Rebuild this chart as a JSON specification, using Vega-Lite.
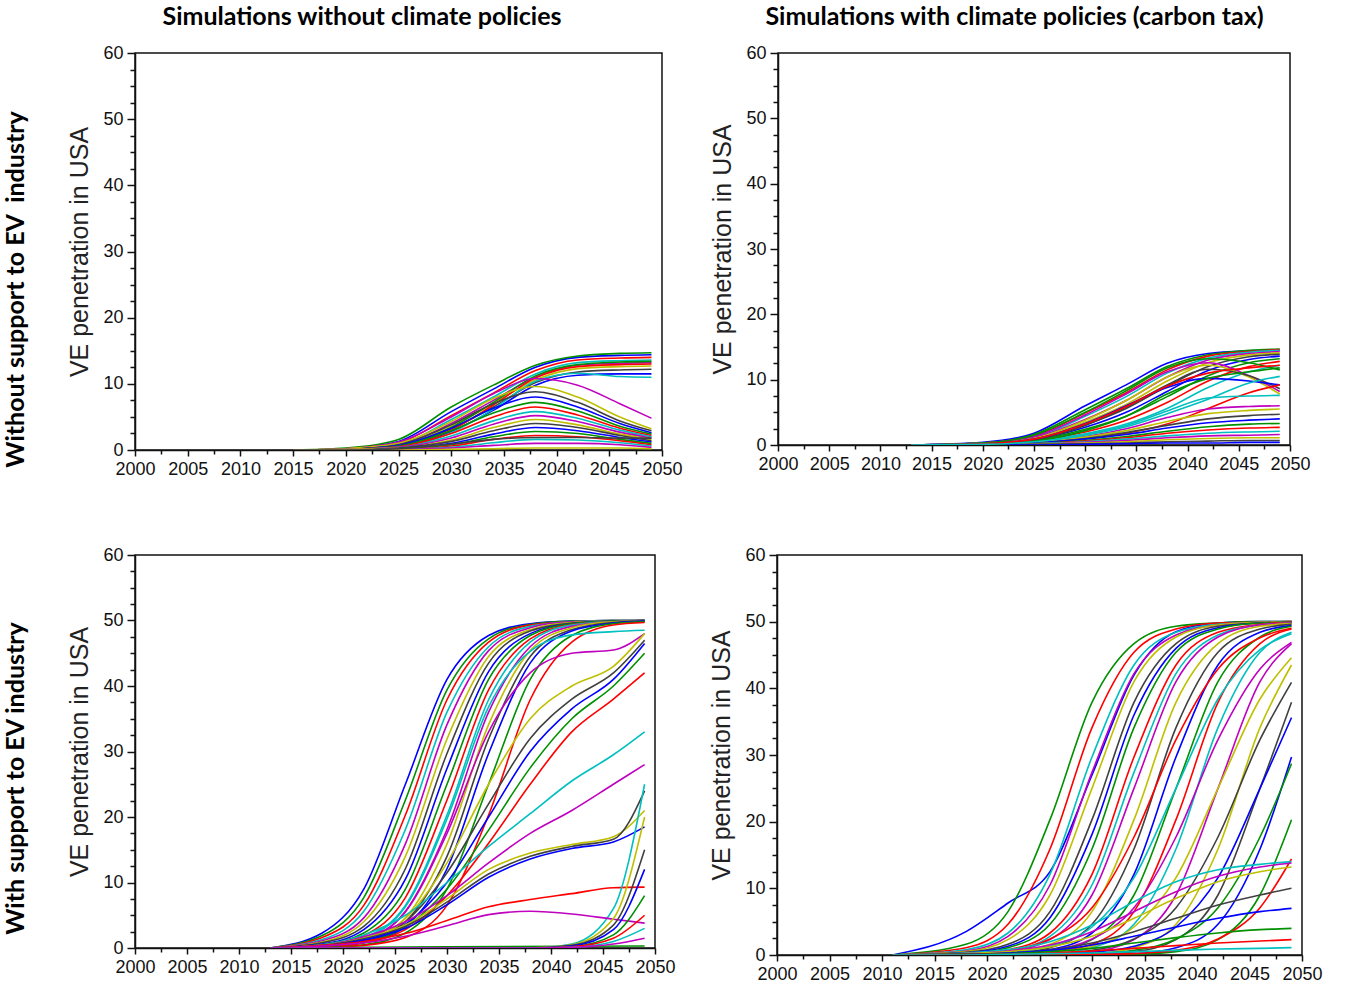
{
"$schema":"https://vega.github.io/schema/vega-lite/v6.json",
"background":"white",
"padding":{"left":4,"top":4,"right":5,"bottom":5},
"config":{
"view":{"stroke":"#111","strokeWidth":1.5},
"axis":{"grid":false,"domainColor":"#111","domainWidth":1.5,"tickColor":"#111","tickWidth":1.5,"labelFont":"Liberation Sans","labelFontSize":18,"labelColor":"#111","titleFont":"Liberation Sans","titleFontWeight":"normal","titleColor":"#222","titleFontSize":25,"labelOverlap":false,"labelFlush":false},
"title":{"font":"Lato","fontWeight":"bold","fontSize":25,"color":"#000"}
},
"spacing":66,
"vconcat":[
{"title":{"text":"Without support to EV\u00a0 industry","orient":"left","anchor":"middle","offset":38,"dx":-48},
"spacing":27,
"hconcat":[
{"width":527,"height":397,"title":{"text":"Simulations without climate policies","offset":14,"frame":"bounds","dx":-13},
"data":{"name":"a"},
"mark":{"type":"line","interpolate":"monotone","strokeWidth":1.6,"clip":true},
"encoding":{
"x":{"field":"x","type":"quantitative","scale":{"domain":[2000,2050],"nice":false,"zero":false},"axis":{"title":null,"values":[2000,2002.5,2005,2007.5,2010,2012.5,2015,2017.5,2020,2022.5,2025,2027.5,2030,2032.5,2035,2037.5,2040,2042.5,2045,2047.5,2050],"labelExpr":"datum.value % 5 === 0 ? datum.value : ''","tickSize":{"condition":{"test":"datum.value % 5 === 0","value":6},"value":4},"labelPadding":4}},
"y":{"field":"y","type":"quantitative","scale":{"domain":[0,60],"nice":false},"axis":{"title":"VE penetration in USA","values":[0,2.5,5,7.5,10,12.5,15,17.5,20,22.5,25,27.5,30,32.5,35,37.5,40,42.5,45,47.5,50,52.5,55,57.5,60],"labelExpr":"datum.value % 10 === 0 ? datum.label : ''","tickSize":{"condition":{"test":"datum.value % 10 === 0","value":8},"value":5},"labelPadding":4,"titlePadding":10}},
"color":{"field":"s","type":"nominal","scale":{"range":["#0000ff","#009000","#ff0000","#00bfbf","#bf00bf","#bfbf00","#404040"]},"legend":null}}},
{"width":512,"height":392,"title":{"text":"Simulations with climate policies (carbon tax)","offset":14,"frame":"bounds","dx":4},
"data":{"name":"b"},
"mark":{"type":"line","interpolate":"monotone","strokeWidth":1.6,"clip":true},
"encoding":{
"x":{"field":"x","type":"quantitative","scale":{"domain":[2000,2050],"nice":false,"zero":false},"axis":{"title":null,"values":[2000,2002.5,2005,2007.5,2010,2012.5,2015,2017.5,2020,2022.5,2025,2027.5,2030,2032.5,2035,2037.5,2040,2042.5,2045,2047.5,2050],"labelExpr":"datum.value % 5 === 0 ? datum.value : ''","tickSize":{"condition":{"test":"datum.value % 5 === 0","value":6},"value":4},"labelPadding":4}},
"y":{"field":"y","type":"quantitative","scale":{"domain":[0,60],"nice":false},"axis":{"title":"VE penetration in USA","values":[0,2.5,5,7.5,10,12.5,15,17.5,20,22.5,25,27.5,30,32.5,35,37.5,40,42.5,45,47.5,50,52.5,55,57.5,60],"labelExpr":"datum.value % 10 === 0 ? datum.label : ''","tickSize":{"condition":{"test":"datum.value % 10 === 0","value":8},"value":5},"labelPadding":4,"titlePadding":10}},
"color":{"field":"s","type":"nominal","scale":{"range":["#0000ff","#009000","#ff0000","#00bfbf","#bf00bf","#bfbf00","#404040"]},"legend":null}}}
]},
{"title":{"text":"With support to EV industry","orient":"left","anchor":"middle","offset":38,"dx":-14},
"spacing":33,
"hconcat":[
{"width":520,"height":393,
"data":{"name":"c"},
"mark":{"type":"line","interpolate":"monotone","strokeWidth":1.6,"clip":true},
"encoding":{
"x":{"field":"x","type":"quantitative","scale":{"domain":[2000,2050],"nice":false,"zero":false},"axis":{"title":null,"values":[2000,2002.5,2005,2007.5,2010,2012.5,2015,2017.5,2020,2022.5,2025,2027.5,2030,2032.5,2035,2037.5,2040,2042.5,2045,2047.5,2050],"labelExpr":"datum.value % 5 === 0 ? datum.value : ''","tickSize":{"condition":{"test":"datum.value % 5 === 0","value":6},"value":4},"labelPadding":4}},
"y":{"field":"y","type":"quantitative","scale":{"domain":[0,60],"nice":false},"axis":{"title":"VE penetration in USA","values":[0,2.5,5,7.5,10,12.5,15,17.5,20,22.5,25,27.5,30,32.5,35,37.5,40,42.5,45,47.5,50,52.5,55,57.5,60],"labelExpr":"datum.value % 10 === 0 ? datum.label : ''","tickSize":{"condition":{"test":"datum.value % 10 === 0","value":8},"value":5},"labelPadding":4,"titlePadding":10}},
"color":{"field":"s","type":"nominal","scale":{"range":["#0000ff","#009000","#ff0000","#00bfbf","#bf00bf","#bfbf00","#404040"]},"legend":null}}},
{"width":525,"height":400,
"data":{"name":"d"},
"mark":{"type":"line","interpolate":"monotone","strokeWidth":1.6,"clip":true},
"encoding":{
"x":{"field":"x","type":"quantitative","scale":{"domain":[2000,2050],"nice":false,"zero":false},"axis":{"title":null,"values":[2000,2002.5,2005,2007.5,2010,2012.5,2015,2017.5,2020,2022.5,2025,2027.5,2030,2032.5,2035,2037.5,2040,2042.5,2045,2047.5,2050],"labelExpr":"datum.value % 5 === 0 ? datum.value : ''","tickSize":{"condition":{"test":"datum.value % 5 === 0","value":6},"value":4},"labelPadding":4}},
"y":{"field":"y","type":"quantitative","scale":{"domain":[0,60],"nice":false},"axis":{"title":"VE penetration in USA","values":[0,2.5,5,7.5,10,12.5,15,17.5,20,22.5,25,27.5,30,32.5,35,37.5,40,42.5,45,47.5,50,52.5,55,57.5,60],"labelExpr":"datum.value % 10 === 0 ? datum.label : ''","tickSize":{"condition":{"test":"datum.value % 10 === 0","value":8},"value":5},"labelPadding":4,"titlePadding":10}},
"color":{"field":"s","type":"nominal","scale":{"range":["#0000ff","#009000","#ff0000","#00bfbf","#bf00bf","#bfbf00","#404040"]},"legend":null}}}
]}
],
"datasets":{
"a":[
{"s":1,"x":2015,"y":0},{"s":1,"x":2020,"y":0.2},{"s":1,"x":2025,"y":1.3},{"s":1,"x":2030,"y":5.8},{"s":1,"x":2034,"y":9.2},{"s":1,"x":2038,"y":12.5},{"s":1,"x":2042,"y":14.0},{"s":1,"x":2046,"y":14.3},{"s":1,"x":2049,"y":14.4},
{"s":2,"x":2015,"y":0},{"s":2,"x":2020,"y":0.3},{"s":2,"x":2025,"y":1.6},{"s":2,"x":2030,"y":6.5},{"s":2,"x":2034,"y":9.8},{"s":2,"x":2038,"y":12.8},{"s":2,"x":2042,"y":14.2},{"s":2,"x":2046,"y":14.6},{"s":2,"x":2049,"y":14.7},
{"s":3,"x":2015,"y":0},{"s":3,"x":2020,"y":0.2},{"s":3,"x":2025,"y":1.1},{"s":3,"x":2030,"y":5.2},{"s":3,"x":2034,"y":8.6},{"s":3,"x":2038,"y":12.0},{"s":3,"x":2042,"y":13.6},{"s":3,"x":2046,"y":13.9},{"s":3,"x":2049,"y":14.0},
{"s":4,"x":2015,"y":0},{"s":4,"x":2020,"y":0.2},{"s":4,"x":2025,"y":0.9},{"s":4,"x":2030,"y":4.6},{"s":4,"x":2034,"y":8.0},{"s":4,"x":2038,"y":11.5},{"s":4,"x":2042,"y":13.2},{"s":4,"x":2046,"y":13.5},{"s":4,"x":2049,"y":13.6},
{"s":5,"x":2015,"y":0},{"s":5,"x":2020,"y":0.1},{"s":5,"x":2025,"y":0.8},{"s":5,"x":2030,"y":4.0},{"s":5,"x":2034,"y":7.5},{"s":5,"x":2038,"y":11.0},{"s":5,"x":2042,"y":12.8},{"s":5,"x":2046,"y":13.1},{"s":5,"x":2049,"y":13.2},
{"s":6,"x":2015,"y":0},{"s":6,"x":2020,"y":0.1},{"s":6,"x":2025,"y":0.7},{"s":6,"x":2030,"y":3.6},{"s":6,"x":2034,"y":7.0},{"s":6,"x":2038,"y":10.6},{"s":6,"x":2042,"y":12.3},{"s":6,"x":2046,"y":12.6},{"s":6,"x":2049,"y":12.7},
{"s":7,"x":2015,"y":0},{"s":7,"x":2020,"y":0.1},{"s":7,"x":2025,"y":0.6},{"s":7,"x":2030,"y":3.2},{"s":7,"x":2034,"y":6.5},{"s":7,"x":2038,"y":10.2},{"s":7,"x":2042,"y":11.8},{"s":7,"x":2046,"y":12.1},{"s":7,"x":2049,"y":12.2},
{"s":8,"x":2015,"y":0},{"s":8,"x":2020,"y":0.1},{"s":8,"x":2025,"y":0.5},{"s":8,"x":2030,"y":2.8},{"s":8,"x":2034,"y":6.0},{"s":8,"x":2038,"y":9.8},{"s":8,"x":2042,"y":11.3},{"s":8,"x":2046,"y":11.5},{"s":8,"x":2049,"y":11.5},
{"s":9,"x":2015,"y":0},{"s":9,"x":2020,"y":0.1},{"s":9,"x":2025,"y":0.6},{"s":9,"x":2030,"y":3.4},{"s":9,"x":2034,"y":7.2},{"s":9,"x":2038,"y":11.2},{"s":9,"x":2042,"y":12.9},{"s":9,"x":2046,"y":13.3},{"s":9,"x":2049,"y":13.4},
{"s":10,"x":2015,"y":0},{"s":10,"x":2020,"y":0.1},{"s":10,"x":2025,"y":0.5},{"s":10,"x":2030,"y":3.0},{"s":10,"x":2034,"y":6.8},{"s":10,"x":2038,"y":10.9},{"s":10,"x":2042,"y":12.6},{"s":10,"x":2046,"y":12.9},{"s":10,"x":2049,"y":13.0},
{"s":11,"x":2015,"y":0},{"s":11,"x":2020,"y":0.1},{"s":11,"x":2025,"y":0.4},{"s":11,"x":2030,"y":2.6},{"s":11,"x":2034,"y":6.2},{"s":11,"x":2038,"y":10.4},{"s":11,"x":2042,"y":11.6},{"s":11,"x":2046,"y":11.1},{"s":11,"x":2049,"y":11.0},
{"s":12,"x":2015,"y":0},{"s":12,"x":2020,"y":0.2},{"s":12,"x":2025,"y":1.2},{"s":12,"x":2030,"y":5.0},{"s":12,"x":2034,"y":8.5},{"s":12,"x":2038,"y":10.8},{"s":12,"x":2042,"y":9.8},{"s":12,"x":2046,"y":7.0},{"s":12,"x":2049,"y":4.8},
{"s":13,"x":2015,"y":0},{"s":13,"x":2020,"y":0.2},{"s":13,"x":2025,"y":1.0},{"s":13,"x":2030,"y":4.3},{"s":13,"x":2034,"y":7.8},{"s":13,"x":2038,"y":9.6},{"s":13,"x":2042,"y":8.0},{"s":13,"x":2046,"y":5.0},{"s":13,"x":2049,"y":3.2},
{"s":14,"x":2015,"y":0},{"s":14,"x":2020,"y":0.1},{"s":14,"x":2025,"y":0.8},{"s":14,"x":2030,"y":3.8},{"s":14,"x":2034,"y":7.0},{"s":14,"x":2038,"y":8.8},{"s":14,"x":2042,"y":7.2},{"s":14,"x":2046,"y":4.4},{"s":14,"x":2049,"y":2.9},
{"s":15,"x":2015,"y":0},{"s":15,"x":2020,"y":0.1},{"s":15,"x":2025,"y":0.7},{"s":15,"x":2030,"y":3.3},{"s":15,"x":2034,"y":6.3},{"s":15,"x":2038,"y":8.0},{"s":15,"x":2042,"y":6.5},{"s":15,"x":2046,"y":4.0},{"s":15,"x":2049,"y":2.6},
{"s":16,"x":2015,"y":0},{"s":16,"x":2020,"y":0.1},{"s":16,"x":2025,"y":0.6},{"s":16,"x":2030,"y":2.9},{"s":16,"x":2034,"y":5.6},{"s":16,"x":2038,"y":7.2},{"s":16,"x":2042,"y":5.9},{"s":16,"x":2046,"y":3.6},{"s":16,"x":2049,"y":2.4},
{"s":17,"x":2015,"y":0},{"s":17,"x":2020,"y":0.1},{"s":17,"x":2025,"y":0.5},{"s":17,"x":2030,"y":2.5},{"s":17,"x":2034,"y":5.0},{"s":17,"x":2038,"y":6.5},{"s":17,"x":2042,"y":5.3},{"s":17,"x":2046,"y":3.3},{"s":17,"x":2049,"y":2.2},
{"s":18,"x":2015,"y":0},{"s":18,"x":2020,"y":0.1},{"s":18,"x":2025,"y":0.4},{"s":18,"x":2030,"y":2.1},{"s":18,"x":2034,"y":4.4},{"s":18,"x":2038,"y":5.8},{"s":18,"x":2042,"y":4.8},{"s":18,"x":2046,"y":3.0},{"s":18,"x":2049,"y":2.0},
{"s":19,"x":2015,"y":0},{"s":19,"x":2020,"y":0.1},{"s":19,"x":2025,"y":0.4},{"s":19,"x":2030,"y":1.8},{"s":19,"x":2034,"y":3.9},{"s":19,"x":2038,"y":5.2},{"s":19,"x":2042,"y":4.3},{"s":19,"x":2046,"y":2.7},{"s":19,"x":2049,"y":1.8},
{"s":20,"x":2015,"y":0},{"s":20,"x":2020,"y":0.1},{"s":20,"x":2025,"y":0.3},{"s":20,"x":2030,"y":1.5},{"s":20,"x":2034,"y":3.4},{"s":20,"x":2038,"y":4.6},{"s":20,"x":2042,"y":3.8},{"s":20,"x":2046,"y":2.4},{"s":20,"x":2049,"y":1.6},
{"s":21,"x":2015,"y":0},{"s":21,"x":2020,"y":0},{"s":21,"x":2025,"y":0.3},{"s":21,"x":2030,"y":1.3},{"s":21,"x":2034,"y":2.9},{"s":21,"x":2038,"y":4.0},{"s":21,"x":2042,"y":3.4},{"s":21,"x":2046,"y":2.2},{"s":21,"x":2049,"y":1.4},
{"s":22,"x":2015,"y":0},{"s":22,"x":2020,"y":0},{"s":22,"x":2025,"y":0.2},{"s":22,"x":2030,"y":1.0},{"s":22,"x":2034,"y":2.4},{"s":22,"x":2038,"y":3.4},{"s":22,"x":2042,"y":2.9},{"s":22,"x":2046,"y":1.9},{"s":22,"x":2049,"y":1.2},
{"s":23,"x":2015,"y":0},{"s":23,"x":2020,"y":0},{"s":23,"x":2025,"y":0.2},{"s":23,"x":2030,"y":0.8},{"s":23,"x":2034,"y":2.0},{"s":23,"x":2038,"y":2.8},{"s":23,"x":2042,"y":2.5},{"s":23,"x":2046,"y":1.6},{"s":23,"x":2049,"y":1.0},
{"s":24,"x":2015,"y":0},{"s":24,"x":2020,"y":0},{"s":24,"x":2025,"y":0.1},{"s":24,"x":2030,"y":0.6},{"s":24,"x":2034,"y":1.6},{"s":24,"x":2038,"y":2.2},{"s":24,"x":2042,"y":2.0},{"s":24,"x":2046,"y":1.4},{"s":24,"x":2049,"y":0.8},
{"s":25,"x":2015,"y":0},{"s":25,"x":2020,"y":0},{"s":25,"x":2025,"y":0.1},{"s":25,"x":2030,"y":0.4},{"s":25,"x":2034,"y":1.1},{"s":25,"x":2038,"y":1.6},{"s":25,"x":2042,"y":1.5},{"s":25,"x":2046,"y":1.1},{"s":25,"x":2049,"y":0.6},
{"s":26,"x":2015,"y":0},{"s":26,"x":2020,"y":0},{"s":26,"x":2025,"y":0.1},{"s":26,"x":2030,"y":0.3},{"s":26,"x":2034,"y":0.7},{"s":26,"x":2038,"y":1.0},{"s":26,"x":2042,"y":1.0},{"s":26,"x":2046,"y":0.8},{"s":26,"x":2049,"y":0.4},
{"s":27,"x":2015,"y":0},{"s":27,"x":2020,"y":0},{"s":27,"x":2025,"y":0},{"s":27,"x":2030,"y":0.1},{"s":27,"x":2034,"y":0.2},{"s":27,"x":2038,"y":0.3},{"s":27,"x":2042,"y":0.3},{"s":27,"x":2046,"y":0.3},{"s":27,"x":2049,"y":0.2},
{"s":28,"x":2015,"y":0},{"s":28,"x":2020,"y":0},{"s":28,"x":2025,"y":0.2},{"s":28,"x":2030,"y":0.9},{"s":28,"x":2034,"y":1.6},{"s":28,"x":2038,"y":1.9},{"s":28,"x":2042,"y":1.9},{"s":28,"x":2046,"y":1.8},{"s":28,"x":2049,"y":1.8}
],
"b":[
{"s":1,"x":2013,"y":0},{"s":1,"x":2020,"y":0.4},{"s":1,"x":2025,"y":1.8},{"s":1,"x":2030,"y":6.0},{"s":1,"x":2034,"y":9.2},{"s":1,"x":2038,"y":12.5},{"s":1,"x":2042,"y":14.0},{"s":1,"x":2046,"y":14.4},{"s":1,"x":2049,"y":14.5},
{"s":2,"x":2013,"y":0},{"s":2,"x":2020,"y":0.3},{"s":2,"x":2025,"y":1.6},{"s":2,"x":2030,"y":5.4},{"s":2,"x":2034,"y":8.6},{"s":2,"x":2038,"y":12.0},{"s":2,"x":2042,"y":13.8},{"s":2,"x":2046,"y":14.5},{"s":2,"x":2049,"y":14.7},
{"s":3,"x":2013,"y":0},{"s":3,"x":2020,"y":0.3},{"s":3,"x":2025,"y":1.4},{"s":3,"x":2030,"y":4.9},{"s":3,"x":2034,"y":8.0},{"s":3,"x":2038,"y":11.5},{"s":3,"x":2042,"y":13.6},{"s":3,"x":2046,"y":14.3},{"s":3,"x":2049,"y":14.6},
{"s":4,"x":2013,"y":0},{"s":4,"x":2020,"y":0.3},{"s":4,"x":2025,"y":1.2},{"s":4,"x":2030,"y":4.4},{"s":4,"x":2034,"y":7.4},{"s":4,"x":2038,"y":11.0},{"s":4,"x":2042,"y":13.3},{"s":4,"x":2046,"y":14.2},{"s":4,"x":2049,"y":14.5},
{"s":5,"x":2013,"y":0},{"s":5,"x":2020,"y":0.2},{"s":5,"x":2025,"y":1.1},{"s":5,"x":2030,"y":3.9},{"s":5,"x":2034,"y":6.8},{"s":5,"x":2038,"y":10.4},{"s":5,"x":2042,"y":13.0},{"s":5,"x":2046,"y":14.0},{"s":5,"x":2049,"y":14.3},
{"s":6,"x":2013,"y":0},{"s":6,"x":2020,"y":0.2},{"s":6,"x":2025,"y":1.0},{"s":6,"x":2030,"y":3.5},{"s":6,"x":2034,"y":6.2},{"s":6,"x":2038,"y":9.8},{"s":6,"x":2042,"y":12.6},{"s":6,"x":2046,"y":13.8},{"s":6,"x":2049,"y":14.1},
{"s":7,"x":2013,"y":0},{"s":7,"x":2020,"y":0.2},{"s":7,"x":2025,"y":0.9},{"s":7,"x":2030,"y":3.1},{"s":7,"x":2034,"y":5.6},{"s":7,"x":2038,"y":9.0},{"s":7,"x":2042,"y":12.0},{"s":7,"x":2046,"y":13.5},{"s":7,"x":2049,"y":13.9},
{"s":8,"x":2013,"y":0},{"s":8,"x":2020,"y":0.2},{"s":8,"x":2025,"y":0.8},{"s":8,"x":2030,"y":2.7},{"s":8,"x":2034,"y":5.0},{"s":8,"x":2038,"y":8.2},{"s":8,"x":2042,"y":11.4},{"s":8,"x":2046,"y":13.1},{"s":8,"x":2049,"y":13.6},
{"s":9,"x":2013,"y":0},{"s":9,"x":2020,"y":0.2},{"s":9,"x":2025,"y":0.7},{"s":9,"x":2030,"y":2.4},{"s":9,"x":2034,"y":4.4},{"s":9,"x":2038,"y":7.4},{"s":9,"x":2042,"y":10.6},{"s":9,"x":2046,"y":12.6},{"s":9,"x":2049,"y":13.2},
{"s":10,"x":2013,"y":0},{"s":10,"x":2020,"y":0.1},{"s":10,"x":2025,"y":0.6},{"s":10,"x":2030,"y":2.0},{"s":10,"x":2034,"y":3.8},{"s":10,"x":2038,"y":6.5},{"s":10,"x":2042,"y":9.8},{"s":10,"x":2046,"y":12.0},{"s":10,"x":2049,"y":12.8},
{"s":11,"x":2013,"y":0},{"s":11,"x":2020,"y":0.1},{"s":11,"x":2025,"y":0.5},{"s":11,"x":2030,"y":1.7},{"s":11,"x":2034,"y":3.2},{"s":11,"x":2038,"y":5.6},{"s":11,"x":2042,"y":8.8},{"s":11,"x":2046,"y":11.2},{"s":11,"x":2049,"y":12.2},
{"s":12,"x":2013,"y":0},{"s":12,"x":2020,"y":0.3},{"s":12,"x":2025,"y":1.3},{"s":12,"x":2030,"y":4.6},{"s":12,"x":2034,"y":7.8},{"s":12,"x":2038,"y":11.2},{"s":12,"x":2042,"y":12.6},{"s":12,"x":2046,"y":10.6},{"s":12,"x":2049,"y":8.2},
{"s":13,"x":2013,"y":0},{"s":13,"x":2020,"y":0.2},{"s":13,"x":2025,"y":1.0},{"s":13,"x":2030,"y":3.8},{"s":13,"x":2034,"y":6.8},{"s":13,"x":2038,"y":10.4},{"s":13,"x":2042,"y":12.2},{"s":13,"x":2046,"y":10.4},{"s":13,"x":2049,"y":7.8},
{"s":14,"x":2013,"y":0},{"s":14,"x":2020,"y":0.2},{"s":14,"x":2025,"y":0.8},{"s":14,"x":2030,"y":3.0},{"s":14,"x":2034,"y":5.8},{"s":14,"x":2038,"y":9.2},{"s":14,"x":2042,"y":11.6},{"s":14,"x":2046,"y":10.6},{"s":14,"x":2049,"y":8.6},
{"s":15,"x":2013,"y":0},{"s":15,"x":2020,"y":0.2},{"s":15,"x":2025,"y":0.9},{"s":15,"x":2030,"y":3.3},{"s":15,"x":2034,"y":6.0},{"s":15,"x":2038,"y":8.8},{"s":15,"x":2042,"y":10.2},{"s":15,"x":2046,"y":9.8},{"s":15,"x":2049,"y":9.2},
{"s":16,"x":2013,"y":0},{"s":16,"x":2020,"y":0.3},{"s":16,"x":2025,"y":1.5},{"s":16,"x":2030,"y":5.0},{"s":16,"x":2034,"y":8.3},{"s":16,"x":2038,"y":11.8},{"s":16,"x":2042,"y":13.2},{"s":16,"x":2046,"y":12.6},{"s":16,"x":2049,"y":11.5},
{"s":17,"x":2013,"y":0},{"s":17,"x":2020,"y":0.1},{"s":17,"x":2025,"y":0.4},{"s":17,"x":2030,"y":1.0},{"s":17,"x":2034,"y":1.8},{"s":17,"x":2038,"y":3.2},{"s":17,"x":2042,"y":5.6},{"s":17,"x":2046,"y":8.0},{"s":17,"x":2049,"y":9.2},
{"s":18,"x":2013,"y":0},{"s":18,"x":2020,"y":0.1},{"s":18,"x":2025,"y":0.5},{"s":18,"x":2030,"y":1.6},{"s":18,"x":2034,"y":3.0},{"s":18,"x":2038,"y":5.2},{"s":18,"x":2042,"y":7.2},{"s":18,"x":2046,"y":7.5},{"s":18,"x":2049,"y":7.6},
{"s":19,"x":2013,"y":0},{"s":19,"x":2020,"y":0.1},{"s":19,"x":2025,"y":0.4},{"s":19,"x":2030,"y":1.3},{"s":19,"x":2034,"y":2.5},{"s":19,"x":2038,"y":4.2},{"s":19,"x":2042,"y":5.5},{"s":19,"x":2046,"y":5.9},{"s":19,"x":2049,"y":6.0},
{"s":20,"x":2013,"y":0},{"s":20,"x":2020,"y":0.1},{"s":20,"x":2025,"y":0.4},{"s":20,"x":2030,"y":1.2},{"s":20,"x":2034,"y":2.2},{"s":20,"x":2038,"y":3.6},{"s":20,"x":2042,"y":4.8},{"s":20,"x":2046,"y":5.3},{"s":20,"x":2049,"y":5.5},
{"s":21,"x":2013,"y":0},{"s":21,"x":2020,"y":0.1},{"s":21,"x":2025,"y":0.3},{"s":21,"x":2030,"y":1.0},{"s":21,"x":2034,"y":1.9},{"s":21,"x":2038,"y":3.0},{"s":21,"x":2042,"y":4.0},{"s":21,"x":2046,"y":4.5},{"s":21,"x":2049,"y":4.7},
{"s":22,"x":2013,"y":0},{"s":22,"x":2020,"y":0.1},{"s":22,"x":2025,"y":0.3},{"s":22,"x":2030,"y":0.9},{"s":22,"x":2034,"y":1.6},{"s":22,"x":2038,"y":2.6},{"s":22,"x":2042,"y":3.4},{"s":22,"x":2046,"y":3.8},{"s":22,"x":2049,"y":4.0},
{"s":23,"x":2013,"y":0},{"s":23,"x":2020,"y":0.1},{"s":23,"x":2025,"y":0.2},{"s":23,"x":2030,"y":0.7},{"s":23,"x":2034,"y":1.3},{"s":23,"x":2038,"y":2.1},{"s":23,"x":2042,"y":2.8},{"s":23,"x":2046,"y":3.2},{"s":23,"x":2049,"y":3.3},
{"s":24,"x":2013,"y":0},{"s":24,"x":2020,"y":0.1},{"s":24,"x":2025,"y":0.2},{"s":24,"x":2030,"y":0.6},{"s":24,"x":2034,"y":1.1},{"s":24,"x":2038,"y":1.8},{"s":24,"x":2042,"y":2.3},{"s":24,"x":2046,"y":2.6},{"s":24,"x":2049,"y":2.7},
{"s":25,"x":2013,"y":0},{"s":25,"x":2020,"y":0},{"s":25,"x":2025,"y":0.2},{"s":25,"x":2030,"y":0.5},{"s":25,"x":2034,"y":0.9},{"s":25,"x":2038,"y":1.4},{"s":25,"x":2042,"y":1.8},{"s":25,"x":2046,"y":2.0},{"s":25,"x":2049,"y":2.1},
{"s":26,"x":2013,"y":0},{"s":26,"x":2020,"y":0},{"s":26,"x":2025,"y":0.1},{"s":26,"x":2030,"y":0.4},{"s":26,"x":2034,"y":0.7},{"s":26,"x":2038,"y":1.1},{"s":26,"x":2042,"y":1.4},{"s":26,"x":2046,"y":1.5},{"s":26,"x":2049,"y":1.6},
{"s":27,"x":2013,"y":0},{"s":27,"x":2020,"y":0},{"s":27,"x":2025,"y":0.1},{"s":27,"x":2030,"y":0.3},{"s":27,"x":2034,"y":0.5},{"s":27,"x":2038,"y":0.8},{"s":27,"x":2042,"y":1.0},{"s":27,"x":2046,"y":1.1},{"s":27,"x":2049,"y":1.1},
{"s":28,"x":2013,"y":0},{"s":28,"x":2020,"y":0},{"s":28,"x":2025,"y":0.1},{"s":28,"x":2030,"y":0.2},{"s":28,"x":2034,"y":0.3},{"s":28,"x":2038,"y":0.5},{"s":28,"x":2042,"y":0.6},{"s":28,"x":2046,"y":0.7},{"s":28,"x":2049,"y":0.7},
{"s":29,"x":2013,"y":0},{"s":29,"x":2020,"y":0},{"s":29,"x":2025,"y":0},{"s":29,"x":2030,"y":0.1},{"s":29,"x":2034,"y":0.2},{"s":29,"x":2038,"y":0.3},{"s":29,"x":2042,"y":0.3},{"s":29,"x":2046,"y":0.4},{"s":29,"x":2049,"y":0.4},
{"s":30,"x":2013,"y":0},{"s":30,"x":2020,"y":0.1},{"s":30,"x":2025,"y":0.6},{"s":30,"x":2030,"y":2.2},{"s":30,"x":2034,"y":4.4},{"s":30,"x":2038,"y":7.8},{"s":30,"x":2042,"y":10.2},{"s":30,"x":2046,"y":11.2},{"s":30,"x":2049,"y":11.8},
{"s":31,"x":2013,"y":0},{"s":31,"x":2020,"y":0.2},{"s":31,"x":2025,"y":0.9},{"s":31,"x":2030,"y":3.2},{"s":31,"x":2034,"y":5.9},{"s":31,"x":2038,"y":9.0},{"s":31,"x":2042,"y":11.0},{"s":31,"x":2046,"y":11.8},{"s":31,"x":2049,"y":12.2},
{"s":32,"x":2013,"y":0},{"s":32,"x":2020,"y":0.1},{"s":32,"x":2025,"y":0.5},{"s":32,"x":2030,"y":1.5},{"s":32,"x":2034,"y":2.8},{"s":32,"x":2038,"y":4.8},{"s":32,"x":2042,"y":7.0},{"s":32,"x":2046,"y":9.5},{"s":32,"x":2049,"y":10.5}
],
"c":[
{"s":1,"x":2013,"y":0},{"s":1,"x":2018,"y":2.3},{"s":1,"x":2022,"y":9.0},{"s":1,"x":2026,"y":25},{"s":1,"x":2030,"y":41.0},{"s":1,"x":2034,"y":47.7},{"s":1,"x":2038,"y":49.5},{"s":1,"x":2042,"y":49.9},{"s":1,"x":2046,"y":50},{"s":1,"x":2049,"y":50},
{"s":2,"x":2013,"y":0},{"s":2,"x":2018,"y":1.9},{"s":2,"x":2022,"y":7.7},{"s":2,"x":2026,"y":22.6},{"s":2,"x":2030,"y":39.4},{"s":2,"x":2034,"y":47.2},{"s":2,"x":2038,"y":49.4},{"s":2,"x":2042,"y":49.9},{"s":2,"x":2046,"y":50},{"s":2,"x":2049,"y":50},
{"s":3,"x":2013,"y":0},{"s":3,"x":2018,"y":1.6},{"s":3,"x":2022,"y":6.5},{"s":3,"x":2026,"y":20.3},{"s":3,"x":2030,"y":37.9},{"s":3,"x":2034,"y":46.7},{"s":3,"x":2038,"y":49.3},{"s":3,"x":2042,"y":49.8},{"s":3,"x":2046,"y":50},{"s":3,"x":2049,"y":50},
{"s":4,"x":2013,"y":0},{"s":4,"x":2018,"y":1.3},{"s":4,"x":2022,"y":5.6},{"s":4,"x":2026,"y":18.1},{"s":4,"x":2030,"y":36.0},{"s":4,"x":2034,"y":46.0},{"s":4,"x":2038,"y":49.1},{"s":4,"x":2042,"y":49.8},{"s":4,"x":2046,"y":50},{"s":4,"x":2049,"y":50},
{"s":5,"x":2013,"y":0},{"s":5,"x":2018,"y":1.1},{"s":5,"x":2022,"y":4.6},{"s":5,"x":2026,"y":15.9},{"s":5,"x":2030,"y":34.1},{"s":5,"x":2034,"y":45.4},{"s":5,"x":2038,"y":48.9},{"s":5,"x":2042,"y":49.8},{"s":5,"x":2046,"y":49.9},{"s":5,"x":2049,"y":50},
{"s":6,"x":2013,"y":0},{"s":6,"x":2018,"y":0.9},{"s":6,"x":2022,"y":4.0},{"s":6,"x":2026,"y":14.0},{"s":6,"x":2030,"y":31.9},{"s":6,"x":2034,"y":44.5},{"s":6,"x":2038,"y":48.6},{"s":6,"x":2042,"y":49.7},{"s":6,"x":2046,"y":49.9},{"s":6,"x":2049,"y":50},
{"s":7,"x":2013,"y":0},{"s":7,"x":2018,"y":0.8},{"s":7,"x":2022,"y":3.3},{"s":7,"x":2026,"y":12.1},{"s":7,"x":2030,"y":29.7},{"s":7,"x":2034,"y":43.5},{"s":7,"x":2038,"y":48.4},{"s":7,"x":2042,"y":49.6},{"s":7,"x":2046,"y":49.9},{"s":7,"x":2049,"y":50},
{"s":8,"x":2013,"y":0},{"s":8,"x":2018,"y":0.6},{"s":8,"x":2022,"y":2.8},{"s":8,"x":2026,"y":10.5},{"s":8,"x":2030,"y":27.4},{"s":8,"x":2034,"y":42.2},{"s":8,"x":2038,"y":48.0},{"s":8,"x":2042,"y":49.5},{"s":8,"x":2046,"y":49.9},{"s":8,"x":2049,"y":50},
{"s":9,"x":2013,"y":0},{"s":9,"x":2018,"y":0.5},{"s":9,"x":2022,"y":2.3},{"s":9,"x":2026,"y":9.0},{"s":9,"x":2030,"y":25},{"s":9,"x":2034,"y":41.0},{"s":9,"x":2038,"y":47.7},{"s":9,"x":2042,"y":49.5},{"s":9,"x":2046,"y":49.9},{"s":9,"x":2049,"y":50},
{"s":10,"x":2013,"y":0},{"s":10,"x":2018,"y":0.4},{"s":10,"x":2022,"y":1.9},{"s":10,"x":2026,"y":7.7},{"s":10,"x":2030,"y":22.6},{"s":10,"x":2034,"y":39.4},{"s":10,"x":2038,"y":47.2},{"s":10,"x":2042,"y":49.4},{"s":10,"x":2046,"y":49.8},{"s":10,"x":2049,"y":49.9},
{"s":11,"x":2013,"y":0},{"s":11,"x":2018,"y":0.4},{"s":11,"x":2022,"y":1.6},{"s":11,"x":2026,"y":6.5},{"s":11,"x":2030,"y":20.3},{"s":11,"x":2034,"y":37.9},{"s":11,"x":2038,"y":46.7},{"s":11,"x":2042,"y":49.3},{"s":11,"x":2046,"y":49.8},{"s":11,"x":2049,"y":49.9},
{"s":12,"x":2013,"y":0},{"s":12,"x":2018,"y":0.3},{"s":12,"x":2022,"y":1.3},{"s":12,"x":2026,"y":5.6},{"s":12,"x":2030,"y":18.1},{"s":12,"x":2034,"y":36.0},{"s":12,"x":2038,"y":46.0},{"s":12,"x":2042,"y":49.1},{"s":12,"x":2046,"y":49.8},{"s":12,"x":2049,"y":49.9},
{"s":13,"x":2013,"y":0},{"s":13,"x":2018,"y":0.2},{"s":13,"x":2022,"y":1.1},{"s":13,"x":2026,"y":4.6},{"s":13,"x":2030,"y":15.9},{"s":13,"x":2034,"y":34.1},{"s":13,"x":2038,"y":45.4},{"s":13,"x":2042,"y":48.9},{"s":13,"x":2046,"y":49.8},{"s":13,"x":2049,"y":49.9},
{"s":14,"x":2013,"y":0},{"s":14,"x":2018,"y":0.2},{"s":14,"x":2022,"y":0.9},{"s":14,"x":2026,"y":4.0},{"s":14,"x":2030,"y":14.0},{"s":14,"x":2034,"y":31.9},{"s":14,"x":2038,"y":44.5},{"s":14,"x":2042,"y":48.6},{"s":14,"x":2046,"y":49.7},{"s":14,"x":2049,"y":49.9},
{"s":15,"x":2013,"y":0},{"s":15,"x":2018,"y":0.2},{"s":15,"x":2022,"y":0.8},{"s":15,"x":2026,"y":3.3},{"s":15,"x":2030,"y":12.1},{"s":15,"x":2034,"y":29.7},{"s":15,"x":2038,"y":43.5},{"s":15,"x":2042,"y":48.4},{"s":15,"x":2046,"y":49.6},{"s":15,"x":2049,"y":49.9},
{"s":16,"x":2013,"y":0},{"s":16,"x":2018,"y":0.1},{"s":16,"x":2022,"y":0.5},{"s":16,"x":2026,"y":2.3},{"s":16,"x":2030,"y":9.0},{"s":16,"x":2034,"y":25},{"s":16,"x":2038,"y":41.0},{"s":16,"x":2042,"y":47.7},{"s":16,"x":2046,"y":49.5},{"s":16,"x":2049,"y":49.8},
{"s":17,"x":2013,"y":0},{"s":17,"x":2018,"y":0.1},{"s":17,"x":2022,"y":0.4},{"s":17,"x":2026,"y":1.6},{"s":17,"x":2030,"y":6.5},{"s":17,"x":2034,"y":20.3},{"s":17,"x":2038,"y":37.9},{"s":17,"x":2042,"y":46.7},{"s":17,"x":2046,"y":49.3},{"s":17,"x":2049,"y":49.7},
{"s":18,"x":2013,"y":0},{"s":18,"x":2018,"y":0.4},{"s":18,"x":2022,"y":1.5},{"s":18,"x":2026,"y":6.3},{"s":18,"x":2030,"y":19.7},{"s":18,"x":2034,"y":36.8},{"s":18,"x":2038,"y":45.3},{"s":18,"x":2042,"y":47.8},{"s":18,"x":2046,"y":48.3},{"s":18,"x":2049,"y":48.5},
{"s":19,"x":2013,"y":0},{"s":19,"x":2018,"y":0.3},{"s":19,"x":2022,"y":1.3},{"s":19,"x":2026,"y":5.5},{"s":19,"x":2030,"y":17.5},{"s":19,"x":2034,"y":33},{"s":19,"x":2038,"y":42},{"s":19,"x":2042,"y":45},{"s":19,"x":2046,"y":45.5},{"s":19,"x":2049,"y":48},
{"s":20,"x":2013,"y":0},{"s":20,"x":2018,"y":0.3},{"s":20,"x":2022,"y":1.2},{"s":20,"x":2026,"y":4.5},{"s":20,"x":2030,"y":13},{"s":20,"x":2034,"y":25},{"s":20,"x":2038,"y":35},{"s":20,"x":2042,"y":40},{"s":20,"x":2046,"y":43},{"s":20,"x":2049,"y":48},
{"s":21,"x":2013,"y":0},{"s":21,"x":2018,"y":0.3},{"s":21,"x":2022,"y":1.1},{"s":21,"x":2026,"y":4.0},{"s":21,"x":2030,"y":11.5},{"s":21,"x":2034,"y":22},{"s":21,"x":2038,"y":32},{"s":21,"x":2042,"y":38},{"s":21,"x":2046,"y":42},{"s":21,"x":2049,"y":47},
{"s":22,"x":2013,"y":0},{"s":22,"x":2018,"y":0.2},{"s":22,"x":2022,"y":1.0},{"s":22,"x":2026,"y":3.6},{"s":22,"x":2030,"y":10},{"s":22,"x":2034,"y":20},{"s":22,"x":2038,"y":30},{"s":22,"x":2042,"y":36.5},{"s":22,"x":2046,"y":41},{"s":22,"x":2049,"y":46.5},
{"s":23,"x":2013,"y":0},{"s":23,"x":2018,"y":0.2},{"s":23,"x":2022,"y":0.9},{"s":23,"x":2026,"y":3.2},{"s":23,"x":2030,"y":9},{"s":23,"x":2034,"y":18},{"s":23,"x":2038,"y":27.5},{"s":23,"x":2042,"y":35},{"s":23,"x":2046,"y":40},{"s":23,"x":2049,"y":45},
{"s":24,"x":2013,"y":0},{"s":24,"x":2018,"y":0.2},{"s":24,"x":2022,"y":0.8},{"s":24,"x":2026,"y":2.8},{"s":24,"x":2030,"y":8},{"s":24,"x":2034,"y":16},{"s":24,"x":2038,"y":25},{"s":24,"x":2042,"y":33},{"s":24,"x":2046,"y":38},{"s":24,"x":2049,"y":42},
{"s":25,"x":2013,"y":0},{"s":25,"x":2018,"y":0.5},{"s":25,"x":2022,"y":2.0},{"s":25,"x":2026,"y":5.0},{"s":25,"x":2030,"y":10},{"s":25,"x":2034,"y":15.5},{"s":25,"x":2038,"y":20.5},{"s":25,"x":2042,"y":25.5},{"s":25,"x":2046,"y":29.5},{"s":25,"x":2049,"y":33},
{"s":26,"x":2013,"y":0},{"s":26,"x":2018,"y":0.4},{"s":26,"x":2022,"y":1.7},{"s":26,"x":2026,"y":4.0},{"s":26,"x":2030,"y":8},{"s":26,"x":2034,"y":13},{"s":26,"x":2038,"y":17.5},{"s":26,"x":2042,"y":21},{"s":26,"x":2046,"y":25},{"s":26,"x":2049,"y":28},
{"s":27,"x":2013,"y":0},{"s":27,"x":2018,"y":0.4},{"s":27,"x":2022,"y":1.5},{"s":27,"x":2026,"y":3.5},{"s":27,"x":2030,"y":7.5},{"s":27,"x":2034,"y":12},{"s":27,"x":2038,"y":14.5},{"s":27,"x":2042,"y":15.8},{"s":27,"x":2046,"y":17},{"s":27,"x":2049,"y":21},
{"s":28,"x":2013,"y":0},{"s":28,"x":2018,"y":0.4},{"s":28,"x":2022,"y":1.4},{"s":28,"x":2026,"y":3.3},{"s":28,"x":2030,"y":7.0},{"s":28,"x":2034,"y":11.3},{"s":28,"x":2038,"y":14.0},{"s":28,"x":2042,"y":15.5},{"s":28,"x":2046,"y":16.6},{"s":28,"x":2049,"y":24},
{"s":29,"x":2013,"y":0},{"s":29,"x":2018,"y":0.3},{"s":29,"x":2022,"y":1.2},{"s":29,"x":2026,"y":3.0},{"s":29,"x":2030,"y":6.6},{"s":29,"x":2034,"y":10.8},{"s":29,"x":2038,"y":13.6},{"s":29,"x":2042,"y":15.2},{"s":29,"x":2046,"y":16.2},{"s":29,"x":2049,"y":18.5},
{"s":30,"x":2013,"y":0},{"s":30,"x":2030,"y":0.2},{"s":30,"x":2049,"y":0.3},
{"s":31,"x":2013,"y":0},{"s":31,"x":2018,"y":0.4},{"s":31,"x":2022,"y":1.0},{"s":31,"x":2026,"y":2.2},{"s":31,"x":2030,"y":4.2},{"s":31,"x":2034,"y":6.3},{"s":31,"x":2038,"y":7.4},{"s":31,"x":2042,"y":8.3},{"s":31,"x":2046,"y":9.2},{"s":31,"x":2049,"y":9.3},
{"s":32,"x":2013,"y":0},{"s":32,"x":2038,"y":0},{"s":32,"x":2042,"y":0.6},{"s":32,"x":2046,"y":6},{"s":32,"x":2049,"y":25},
{"s":33,"x":2013,"y":0},{"s":33,"x":2018,"y":0.3},{"s":33,"x":2022,"y":0.8},{"s":33,"x":2026,"y":1.8},{"s":33,"x":2030,"y":3.4},{"s":33,"x":2034,"y":5.1},{"s":33,"x":2038,"y":5.6},{"s":33,"x":2042,"y":5.2},{"s":33,"x":2046,"y":4.4},{"s":33,"x":2049,"y":3.8},
{"s":34,"x":2013,"y":0},{"s":34,"x":2038,"y":0},{"s":34,"x":2042,"y":0.5},{"s":34,"x":2046,"y":4.5},{"s":34,"x":2049,"y":20},
{"s":35,"x":2013,"y":0},{"s":35,"x":2038,"y":0},{"s":35,"x":2042,"y":0.4},{"s":35,"x":2046,"y":3.5},{"s":35,"x":2049,"y":15},
{"s":36,"x":2013,"y":0},{"s":36,"x":2038,"y":0},{"s":36,"x":2042,"y":0.3},{"s":36,"x":2046,"y":2.8},{"s":36,"x":2049,"y":12},
{"s":37,"x":2013,"y":0},{"s":37,"x":2038,"y":0},{"s":37,"x":2042,"y":0.2},{"s":37,"x":2046,"y":2.0},{"s":37,"x":2049,"y":8},
{"s":38,"x":2013,"y":0},{"s":38,"x":2038,"y":0},{"s":38,"x":2042,"y":0.2},{"s":38,"x":2046,"y":1.5},{"s":38,"x":2049,"y":5},
{"s":39,"x":2013,"y":0},{"s":39,"x":2038,"y":0},{"s":39,"x":2042,"y":0.1},{"s":39,"x":2046,"y":1.0},{"s":39,"x":2049,"y":3},
{"s":40,"x":2013,"y":0},{"s":40,"x":2038,"y":0},{"s":40,"x":2042,"y":0.1},{"s":40,"x":2046,"y":0.6},{"s":40,"x":2049,"y":1.5}
],
"d":[
{"s":1,"x":2011,"y":0},{"s":1,"x":2018,"y":3.5},{"s":1,"x":2022,"y":7.8},{"s":1,"x":2026,"y":12.5},{"s":1,"x":2030,"y":27},{"s":1,"x":2034,"y":42},{"s":1,"x":2038,"y":48.5},{"s":1,"x":2042,"y":49.8},{"s":1,"x":2046,"y":50},{"s":1,"x":2049,"y":50},
{"s":2,"x":2011,"y":0},{"s":2,"x":2018,"y":1.6},{"s":2,"x":2022,"y":6.5},{"s":2,"x":2026,"y":20.3},{"s":2,"x":2030,"y":37.9},{"s":2,"x":2034,"y":46.7},{"s":2,"x":2038,"y":49.3},{"s":2,"x":2042,"y":49.8},{"s":2,"x":2046,"y":50},{"s":2,"x":2049,"y":50},
{"s":3,"x":2011,"y":0},{"s":3,"x":2018,"y":1.1},{"s":3,"x":2022,"y":4.6},{"s":3,"x":2026,"y":15.9},{"s":3,"x":2030,"y":34.1},{"s":3,"x":2034,"y":45.4},{"s":3,"x":2038,"y":48.9},{"s":3,"x":2042,"y":49.8},{"s":3,"x":2046,"y":49.9},{"s":3,"x":2049,"y":50},
{"s":4,"x":2011,"y":0},{"s":4,"x":2018,"y":0.8},{"s":4,"x":2022,"y":3.3},{"s":4,"x":2026,"y":12.1},{"s":4,"x":2030,"y":29.7},{"s":4,"x":2034,"y":43.5},{"s":4,"x":2038,"y":48.4},{"s":4,"x":2042,"y":49.6},{"s":4,"x":2046,"y":49.9},{"s":4,"x":2049,"y":50},
{"s":5,"x":2011,"y":0},{"s":5,"x":2018,"y":0.6},{"s":5,"x":2022,"y":2.8},{"s":5,"x":2026,"y":10.5},{"s":5,"x":2030,"y":27.4},{"s":5,"x":2034,"y":42.2},{"s":5,"x":2038,"y":48.0},{"s":5,"x":2042,"y":49.5},{"s":5,"x":2046,"y":49.9},{"s":5,"x":2049,"y":50},
{"s":6,"x":2011,"y":0},{"s":6,"x":2018,"y":0.5},{"s":6,"x":2022,"y":2.3},{"s":6,"x":2026,"y":9.0},{"s":6,"x":2030,"y":25},{"s":6,"x":2034,"y":41.0},{"s":6,"x":2038,"y":47.7},{"s":6,"x":2042,"y":49.5},{"s":6,"x":2046,"y":49.9},{"s":6,"x":2049,"y":50},
{"s":7,"x":2011,"y":0},{"s":7,"x":2018,"y":0.4},{"s":7,"x":2022,"y":1.6},{"s":7,"x":2026,"y":6.5},{"s":7,"x":2030,"y":20.3},{"s":7,"x":2034,"y":37.9},{"s":7,"x":2038,"y":46.7},{"s":7,"x":2042,"y":49.3},{"s":7,"x":2046,"y":49.8},{"s":7,"x":2049,"y":49.9},
{"s":8,"x":2011,"y":0},{"s":8,"x":2018,"y":0.3},{"s":8,"x":2022,"y":1.3},{"s":8,"x":2026,"y":5.6},{"s":8,"x":2030,"y":18.1},{"s":8,"x":2034,"y":36.0},{"s":8,"x":2038,"y":46.0},{"s":8,"x":2042,"y":49.1},{"s":8,"x":2046,"y":49.8},{"s":8,"x":2049,"y":49.9},
{"s":9,"x":2011,"y":0},{"s":9,"x":2018,"y":0.2},{"s":9,"x":2022,"y":1.1},{"s":9,"x":2026,"y":4.6},{"s":9,"x":2030,"y":15.9},{"s":9,"x":2034,"y":34.1},{"s":9,"x":2038,"y":45.4},{"s":9,"x":2042,"y":48.9},{"s":9,"x":2046,"y":49.8},{"s":9,"x":2049,"y":49.9},
{"s":10,"x":2011,"y":0},{"s":10,"x":2018,"y":0.2},{"s":10,"x":2022,"y":0.8},{"s":10,"x":2026,"y":3.3},{"s":10,"x":2030,"y":12.1},{"s":10,"x":2034,"y":29.7},{"s":10,"x":2038,"y":43.5},{"s":10,"x":2042,"y":48.4},{"s":10,"x":2046,"y":49.6},{"s":10,"x":2049,"y":49.9},
{"s":11,"x":2011,"y":0},{"s":11,"x":2018,"y":0.1},{"s":11,"x":2022,"y":0.6},{"s":11,"x":2026,"y":2.8},{"s":11,"x":2030,"y":10.5},{"s":11,"x":2034,"y":27.4},{"s":11,"x":2038,"y":42.2},{"s":11,"x":2042,"y":48.0},{"s":11,"x":2046,"y":49.5},{"s":11,"x":2049,"y":49.8},
{"s":12,"x":2011,"y":0},{"s":12,"x":2018,"y":0.1},{"s":12,"x":2022,"y":0.5},{"s":12,"x":2026,"y":2.3},{"s":12,"x":2030,"y":9.0},{"s":12,"x":2034,"y":25},{"s":12,"x":2038,"y":41.0},{"s":12,"x":2042,"y":47.7},{"s":12,"x":2046,"y":49.5},{"s":12,"x":2049,"y":49.8},
{"s":13,"x":2011,"y":0},{"s":13,"x":2018,"y":0.1},{"s":13,"x":2022,"y":0.4},{"s":13,"x":2026,"y":1.6},{"s":13,"x":2030,"y":6.5},{"s":13,"x":2034,"y":20.3},{"s":13,"x":2038,"y":37.9},{"s":13,"x":2042,"y":46.7},{"s":13,"x":2046,"y":49.3},{"s":13,"x":2049,"y":49.7},
{"s":14,"x":2011,"y":0},{"s":14,"x":2018,"y":0.1},{"s":14,"x":2022,"y":0.2},{"s":14,"x":2026,"y":1.1},{"s":14,"x":2030,"y":4.6},{"s":14,"x":2034,"y":15.9},{"s":14,"x":2038,"y":34.1},{"s":14,"x":2042,"y":45.4},{"s":14,"x":2046,"y":48.9},{"s":14,"x":2049,"y":49.6},
{"s":15,"x":2011,"y":0},{"s":15,"x":2018,"y":0},{"s":15,"x":2022,"y":0.2},{"s":15,"x":2026,"y":0.8},{"s":15,"x":2030,"y":3.3},{"s":15,"x":2034,"y":12.1},{"s":15,"x":2038,"y":29.7},{"s":15,"x":2042,"y":43.5},{"s":15,"x":2046,"y":48.4},{"s":15,"x":2049,"y":49.4},
{"s":16,"x":2011,"y":0},{"s":16,"x":2018,"y":0},{"s":16,"x":2022,"y":0.1},{"s":16,"x":2026,"y":0.5},{"s":16,"x":2030,"y":2.3},{"s":16,"x":2034,"y":9.0},{"s":16,"x":2038,"y":25},{"s":16,"x":2042,"y":41.0},{"s":16,"x":2046,"y":47.7},{"s":16,"x":2049,"y":49.3},
{"s":17,"x":2011,"y":0},{"s":17,"x":2018,"y":0},{"s":17,"x":2022,"y":0.1},{"s":17,"x":2026,"y":0.4},{"s":17,"x":2030,"y":1.6},{"s":17,"x":2034,"y":6.5},{"s":17,"x":2038,"y":20.3},{"s":17,"x":2042,"y":37.9},{"s":17,"x":2046,"y":46.7},{"s":17,"x":2049,"y":48.9},
{"s":18,"x":2011,"y":0},{"s":18,"x":2018,"y":0},{"s":18,"x":2022,"y":0.1},{"s":18,"x":2026,"y":0.2},{"s":18,"x":2030,"y":1.1},{"s":18,"x":2034,"y":4.6},{"s":18,"x":2038,"y":15.9},{"s":18,"x":2042,"y":34.1},{"s":18,"x":2046,"y":45.4},{"s":18,"x":2049,"y":48.4},
{"s":19,"x":2011,"y":0},{"s":19,"x":2022,"y":0},{"s":19,"x":2026,"y":0.1},{"s":19,"x":2030,"y":0.5},{"s":19,"x":2034,"y":2.3},{"s":19,"x":2038,"y":9.0},{"s":19,"x":2042,"y":25},{"s":19,"x":2046,"y":41.0},{"s":19,"x":2049,"y":46.7},
{"s":20,"x":2011,"y":0},{"s":20,"x":2022,"y":0},{"s":20,"x":2026,"y":0.1},{"s":20,"x":2030,"y":0.2},{"s":20,"x":2034,"y":1.1},{"s":20,"x":2038,"y":4.6},{"s":20,"x":2042,"y":15.9},{"s":20,"x":2046,"y":34.1},{"s":20,"x":2049,"y":43.5},
{"s":21,"x":2011,"y":0},{"s":21,"x":2026,"y":0},{"s":21,"x":2030,"y":0.1},{"s":21,"x":2034,"y":0.5},{"s":21,"x":2038,"y":2.3},{"s":21,"x":2042,"y":9.0},{"s":21,"x":2046,"y":25},{"s":21,"x":2049,"y":37.9},
{"s":22,"x":2011,"y":0},{"s":22,"x":2026,"y":0},{"s":22,"x":2030,"y":0.1},{"s":22,"x":2034,"y":0.2},{"s":22,"x":2038,"y":1.1},{"s":22,"x":2042,"y":4.6},{"s":22,"x":2046,"y":15.9},{"s":22,"x":2049,"y":29.7},
{"s":23,"x":2011,"y":0},{"s":23,"x":2030,"y":0},{"s":23,"x":2034,"y":0.1},{"s":23,"x":2038,"y":0.5},{"s":23,"x":2042,"y":2.3},{"s":23,"x":2046,"y":9.0},{"s":23,"x":2049,"y":20.3},
{"s":24,"x":2011,"y":0},{"s":24,"x":2018,"y":0.2},{"s":24,"x":2022,"y":0.7},{"s":24,"x":2026,"y":2.4},{"s":24,"x":2030,"y":7.1},{"s":24,"x":2034,"y":17.7},{"s":24,"x":2038,"y":32.3},{"s":24,"x":2042,"y":42.9},{"s":24,"x":2046,"y":47.6},{"s":24,"x":2049,"y":49.0},
{"s":25,"x":2011,"y":0},{"s":25,"x":2018,"y":0.1},{"s":25,"x":2022,"y":0.4},{"s":25,"x":2026,"y":1.3},{"s":25,"x":2030,"y":4.2},{"s":25,"x":2034,"y":11.6},{"s":25,"x":2038,"y":25},{"s":25,"x":2042,"y":38.4},{"s":25,"x":2046,"y":45.8},{"s":25,"x":2049,"y":48.2},
{"s":26,"x":2011,"y":0},{"s":26,"x":2018,"y":0.1},{"s":26,"x":2022,"y":0.2},{"s":26,"x":2026,"y":0.7},{"s":26,"x":2030,"y":2.4},{"s":26,"x":2034,"y":7.1},{"s":26,"x":2038,"y":17.7},{"s":26,"x":2042,"y":32.3},{"s":26,"x":2046,"y":42.9},{"s":26,"x":2049,"y":46.9},
{"s":27,"x":2011,"y":0},{"s":27,"x":2018,"y":0},{"s":27,"x":2022,"y":0.1},{"s":27,"x":2026,"y":0.4},{"s":27,"x":2030,"y":1.3},{"s":27,"x":2034,"y":4.2},{"s":27,"x":2038,"y":11.6},{"s":27,"x":2042,"y":25},{"s":27,"x":2046,"y":38.4},{"s":27,"x":2049,"y":44.6},
{"s":28,"x":2011,"y":0},{"s":28,"x":2018,"y":0},{"s":28,"x":2022,"y":0.1},{"s":28,"x":2026,"y":0.2},{"s":28,"x":2030,"y":0.7},{"s":28,"x":2034,"y":2.4},{"s":28,"x":2038,"y":7.1},{"s":28,"x":2042,"y":17.7},{"s":28,"x":2046,"y":32.3},{"s":28,"x":2049,"y":40.9},
{"s":29,"x":2011,"y":0},{"s":29,"x":2022,"y":0},{"s":29,"x":2026,"y":0.1},{"s":29,"x":2030,"y":0.4},{"s":29,"x":2034,"y":1.3},{"s":29,"x":2038,"y":4.2},{"s":29,"x":2042,"y":11.6},{"s":29,"x":2046,"y":25},{"s":29,"x":2049,"y":35.6},
{"s":30,"x":2011,"y":0},{"s":30,"x":2022,"y":0},{"s":30,"x":2026,"y":0.1},{"s":30,"x":2030,"y":0.2},{"s":30,"x":2034,"y":0.7},{"s":30,"x":2038,"y":2.4},{"s":30,"x":2042,"y":7.1},{"s":30,"x":2046,"y":17.7},{"s":30,"x":2049,"y":28.7},
{"s":31,"x":2011,"y":0},{"s":31,"x":2026,"y":0},{"s":31,"x":2030,"y":0.1},{"s":31,"x":2034,"y":0.2},{"s":31,"x":2038,"y":0.7},{"s":31,"x":2042,"y":2.4},{"s":31,"x":2046,"y":7.1},{"s":31,"x":2049,"y":14.4},
{"s":32,"x":2011,"y":0},{"s":32,"x":2018,"y":0.3},{"s":32,"x":2022,"y":0.8},{"s":32,"x":2026,"y":2.0},{"s":32,"x":2030,"y":4.5},{"s":32,"x":2034,"y":8},{"s":32,"x":2038,"y":11},{"s":32,"x":2042,"y":12.8},{"s":32,"x":2046,"y":13.6},{"s":32,"x":2049,"y":14.0},
{"s":33,"x":2011,"y":0},{"s":33,"x":2018,"y":0.2},{"s":33,"x":2022,"y":0.6},{"s":33,"x":2026,"y":1.5},{"s":33,"x":2030,"y":3.5},{"s":33,"x":2034,"y":6.5},{"s":33,"x":2038,"y":9.5},{"s":33,"x":2042,"y":11.8},{"s":33,"x":2046,"y":13.2},{"s":33,"x":2049,"y":13.8},
{"s":34,"x":2011,"y":0},{"s":34,"x":2018,"y":0.2},{"s":34,"x":2022,"y":0.5},{"s":34,"x":2026,"y":1.2},{"s":34,"x":2030,"y":2.8},{"s":34,"x":2034,"y":5.5},{"s":34,"x":2038,"y":8.5},{"s":34,"x":2042,"y":11},{"s":34,"x":2046,"y":12.5},{"s":34,"x":2049,"y":13.2},
{"s":35,"x":2011,"y":0},{"s":35,"x":2018,"y":0.1},{"s":35,"x":2022,"y":0.3},{"s":35,"x":2026,"y":0.8},{"s":35,"x":2030,"y":1.8},{"s":35,"x":2034,"y":3.5},{"s":35,"x":2038,"y":5.5},{"s":35,"x":2042,"y":7.5},{"s":35,"x":2046,"y":9},{"s":35,"x":2049,"y":10},
{"s":36,"x":2011,"y":0},{"s":36,"x":2018,"y":0.1},{"s":36,"x":2022,"y":0.3},{"s":36,"x":2026,"y":0.7},{"s":36,"x":2030,"y":1.5},{"s":36,"x":2034,"y":2.8},{"s":36,"x":2038,"y":4.2},{"s":36,"x":2042,"y":5.5},{"s":36,"x":2046,"y":6.5},{"s":36,"x":2049,"y":7},
{"s":37,"x":2011,"y":0},{"s":37,"x":2018,"y":0.1},{"s":37,"x":2022,"y":0.2},{"s":37,"x":2026,"y":0.5},{"s":37,"x":2030,"y":1},{"s":37,"x":2034,"y":1.8},{"s":37,"x":2038,"y":2.6},{"s":37,"x":2042,"y":3.3},{"s":37,"x":2046,"y":3.8},{"s":37,"x":2049,"y":4},
{"s":38,"x":2011,"y":0},{"s":38,"x":2018,"y":0.05},{"s":38,"x":2022,"y":0.1},{"s":38,"x":2026,"y":0.3},{"s":38,"x":2030,"y":0.6},{"s":38,"x":2034,"y":1},{"s":38,"x":2038,"y":1.4},{"s":38,"x":2042,"y":1.8},{"s":38,"x":2046,"y":2.1},{"s":38,"x":2049,"y":2.3},
{"s":39,"x":2011,"y":0},{"s":39,"x":2018,"y":0},{"s":39,"x":2022,"y":0.1},{"s":39,"x":2026,"y":0.2},{"s":39,"x":2030,"y":0.3},{"s":39,"x":2034,"y":0.5},{"s":39,"x":2038,"y":0.7},{"s":39,"x":2042,"y":0.9},{"s":39,"x":2046,"y":1},{"s":39,"x":2049,"y":1.1}
]
}
}
